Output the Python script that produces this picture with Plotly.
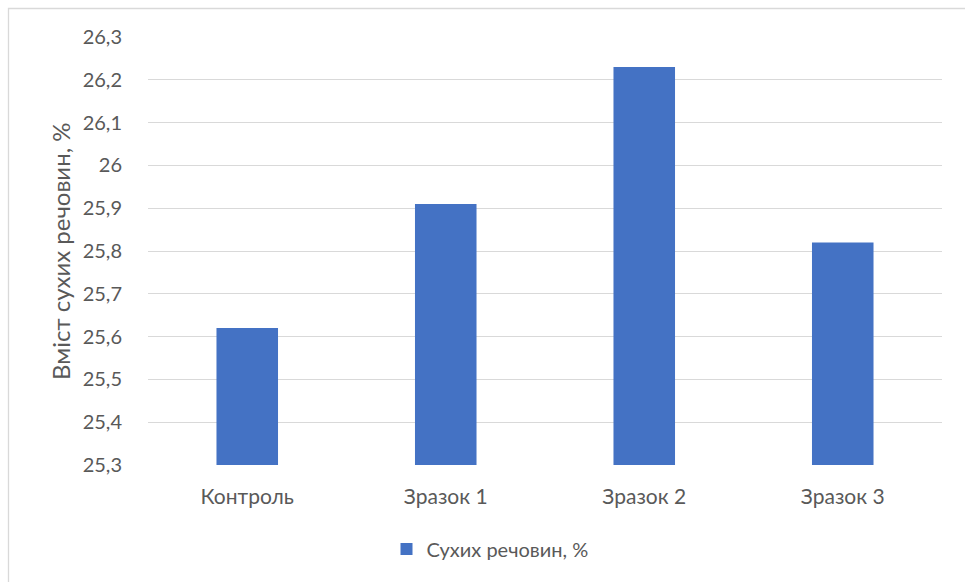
import plotly.graph_objects as go

categories = ["Контроль", "Зразок 1", "Зразок 2", "Зразок 3"]
dry_matter = [25.62, 25.91, 26.23, 25.82]
series_name = "Сухих речовин, %"
y_title = "Вміст сухих речовин, %"

W, H = 965, 582
L, R, T, B = 148, 23, 37, 117
plot_w = W - L - R
plot_h = H - T - B

def px_x(p):
    return (p - L) / plot_w

def px_y(p):
    return (H - B - p) / plot_h

font = "Lato, 'Open Sans', sans-serif"
text_col = "#595959"

fig = go.Figure()
fig.add_trace(go.Bar(
    x=categories, y=dry_matter, name=series_name,
    marker=dict(color="#4472C4", line=dict(width=0)),
    showlegend=True,
))

fig.update_layout(
    width=W, height=H,
    margin=dict(l=L, r=R, t=T, b=B, autoexpand=False),
    paper_bgcolor="white", plot_bgcolor="white",
    separators=", ",
    bargap=0.69,
    font=dict(family=font, size=20, color=text_col),
    showlegend=True,
    legend=dict(orientation="h", x=px_x(490), xanchor="center",
                y=px_y(549), yanchor="middle",
                font=dict(size=20, color=text_col),
                itemwidth=30),
    xaxis=dict(showgrid=False, showline=False, ticks="",
               tickfont=dict(size=21, color=text_col),
               ticklabelstandoff=17, automargin=False),
    yaxis=dict(range=[25.3, 26.3], dtick=0.1, tick0=25.3,
               showgrid=True, gridcolor="#d9d9d9", gridwidth=1,
               zeroline=False, showline=False, ticks="",
               tickfont=dict(size=20, color=text_col),
               ticklabelstandoff=25, automargin=False),
    annotations=[dict(
        text=y_title, xref="paper", yref="paper",
        x=px_x(60), y=px_y(251), xanchor="center", yanchor="middle",
        textangle=-90, showarrow=False,
        font=dict(size=24, color=text_col, family=font),
    )],
    shapes=[dict(
        type="rect", xref="paper", yref="paper",
        x0=px_x(8.5), x1=px_x(990), y0=px_y(8.5), y1=px_y(600),
        line=dict(color="#d9d9d9", width=1.3), layer="below",
    )],
)

fig.write_html("out.html")
